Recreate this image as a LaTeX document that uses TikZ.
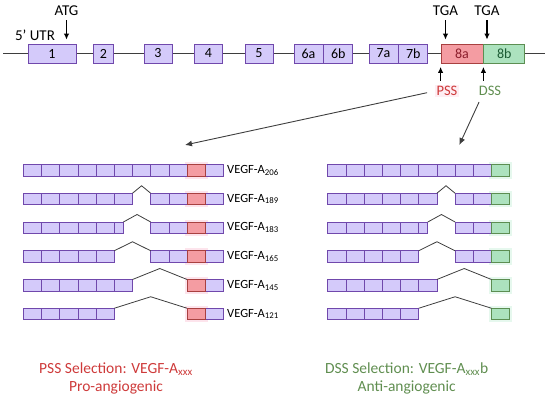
\documentclass[tikz,border=0pt]{standalone}
\usepackage{fontspec}
\setmainfont{Carlito}
\usetikzlibrary{arrows.meta,positioning}
\definecolor{exfill}{RGB}{212,202,250}
\definecolor{exedge}{RGB}{112,72,172}
\definecolor{pssfill}{RGB}{244,156,162}
\definecolor{pssedge}{RGB}{168,64,64}
\definecolor{pssglow}{RGB}{253,228,236}
\definecolor{dssfill}{RGB}{172,226,190}
\definecolor{dssedge}{RGB}{92,142,82}
\definecolor{dssglow}{RGB}{230,248,238}
\definecolor{psstext}{RGB}{206,58,58}
\definecolor{dsstext}{RGB}{96,142,80}
\definecolor{linegray}{RGB}{62,62,62}
\tikzset{
  exon/.style={draw=exedge,line width=0.8pt,fill=exfill,
    minimum height=19pt,inner sep=0pt,font=\fontsize{14}{14}\selectfont},
  exonA/.style={exon,draw=pssedge,fill=pssfill,text={rgb,255:red,140;green,30;blue,44}},
  exonB/.style={exon,draw=dssedge,fill=dssfill,text={rgb,255:red,28;green,92;blue,52}},
  pbox/.style={draw=exedge,line width=0.7pt,fill=exfill},
  pssbox/.style={draw=pssedge,line width=0.7pt,fill=pssfill},
  dssbox/.style={draw=dssedge,line width=0.7pt,fill=dssfill},
  intron/.style={draw=linegray,line width=0.9pt},
  splice/.style={draw=linegray,line width=0.8pt},
  toplab/.style={inner sep=1pt,font=\fontsize{15}{15}\selectfont},
  sitelab/.style={inner sep=1.5pt,font=\fontsize{14.5}{14.5}\selectfont},
  isofont/.style={inner sep=0pt,font=\fontsize{12.5}{12.5}\selectfont},
  selfont/.style={align=center,font=\fontsize{15.5}{18}\selectfont},
  arr/.style={draw=black,line width=1.1pt,-{Latex[length=6pt,width=5.5pt]}},
  bigarr/.style={draw=linegray,line width=0.9pt,-{Latex[length=7pt,width=6pt]}},
}
\newcommand{\boxw}{18.2}
\newcommand{\boxh}{11.5}
\newcommand{\ehalf}[3]{%
  \draw[pbox] ({#1+(#3-1)*\boxw},{#2}) rectangle ++({0.5*\boxw},\boxh);}
\newcommand{\erow}[6]{%
  \fill[#6] ({#1+(#4-1)*\boxw-2.5},{#2-2.5}) rectangle ++({\boxw+5},{\boxh+5});
  \foreach \p in {#3}{%
    \draw[pbox] ({#1+(\p-1)*\boxw},{#2}) rectangle ++(\boxw,\boxh);}
  \draw[#5] ({#1+(#4-1)*\boxw},{#2}) rectangle ++(\boxw,\boxh);}
\newcommand{\esplice}[5]{%
  \draw[splice] ({#1+#3*\boxw},{#2}) -- ({#1+(#3+#4)/2*\boxw},{#2-#5}) -- ({#1+#4*\boxw},{#2});}
\newcommand{\isolab}[3]{%
  \node[isofont,anchor=west] (#1) at (227,{#2+0.5*\boxh}) {VEGF-A\textsubscript{#3}};}

\begin{document}
\begin{tikzpicture}[x=1pt,y=-1pt]
        \useasboundingbox (0,0) rectangle (550,399);
        \isolab{v206}{164.5}{206}\isolab{v189}{193.25}{189}
        \isolab{v183}{222}{183}\isolab{v165}{250.75}{165}
        \isolab{v145}{279.5}{145}\isolab{v121}{308.25}{121}
        \coordinate (gs) at (3,53.5);
        \coordinate (ge) at (545,53.5);
        \draw[intron] (gs) -- (ge);
        \node[exon,minimum width=48pt] (e1) at (52,53.5) {1};
        \node[exon,minimum width=20pt] (e2) at (103.3,53.5) {2};
        \node[exon,minimum width=28pt] (e3) at (158,53.5) {3};
        \node[exon,minimum width=28pt] (e4) at (208.3,53.5) {4};
        \node[exon,minimum width=28pt] (e5) at (259,53.5) {5};
        \node[exon,minimum width=29pt] (e6a) at (308.5,53.5) {6a};
        \node[exon,minimum width=29pt,right=0pt of e6a] (e6b) {6b};
        \node[exon,minimum width=29pt] (e7a) at (383.5,53.5) {7a};
        \node[exon,minimum width=29pt,right=0pt of e7a] (e7b) {7b};
        \node[exonA,minimum width=42pt] (e8a) at (462,53.5) {8a};
        \node[exonB,minimum width=41pt,right=0pt of e8a] (e8b) {8b};
        \node[toplab] (atg) at (66.5,11) {ATG};
        \node[toplab] (utr) at (35,35) {5' UTR};
        \node[toplab] (tga1) at (445.5,11) {TGA};
        \node[toplab] (tga2) at (487,11) {TGA};
        \draw[arr,shorten <=3pt,shorten >=4pt] (atg) -- (atg |- e1.north);
        \draw[arr,shorten <=3pt,shorten >=4pt] (tga1) -- (tga1 |- e8a.north);
        \draw[arr,shorten <=3pt,shorten >=4pt] (tga2) -- (tga2 |- e8b.north);
        \node[sitelab,text=psstext,fill={rgb,255:red,254;green,238;blue,243}] (pss) at (447,91) {PSS};
        \node[sitelab,text=dsstext] (dss) at (490,91) {DSS};
        \draw[arr,shorten <=4pt,shorten >=3.5pt] (pss.north -| e8a.south west) -- (e8a.south west);
        \draw[arr,shorten <=4pt,shorten >=3.5pt] (dss.north -| e8a.south east) -- (e8a.south east);
        \coordinate (ptip) at (185,145);
        \coordinate (dtip) at (459.3,145);
        \draw[bigarr,shorten <=8pt] (pss.west) -- (ptip);
        \draw[bigarr,shorten <=5pt] ([xshift=4pt]dss.south west) -- (dtip);
        \erow{23.3}{164.5}{1,2,3,4,5,6,7,8,9,11}{10}{pssbox}{pssglow}
        \erow{23.3}{193.25}{1,2,3,4,5,6,8,9,11}{10}{pssbox}{pssglow}
        \erow{23.3}{222}{1,2,3,4,5,8,9,11}{10}{pssbox}{pssglow}\ehalf{23.3}{222}{6}
        \erow{23.3}{250.75}{1,2,3,4,5,8,9,11}{10}{pssbox}{pssglow}
        \erow{23.3}{279.5}{1,2,3,4,5,6,11}{10}{pssbox}{pssglow}
        \erow{23.3}{308.25}{1,2,3,4,5,11}{10}{pssbox}{pssglow}
        \esplice{23.3}{193.25}{6}{7}{7.5}\esplice{23.3}{222}{5.5}{7}{7.5}
        \esplice{23.3}{250.75}{5}{7}{9}\esplice{23.3}{279.5}{6}{9}{11}
        \esplice{23.3}{308.25}{5}{9}{11.5}
        \erow{327.7}{164.5}{1,2,3,4,5,6,7,8,9}{10}{dssbox}{dssglow}
        \erow{327.7}{193.25}{1,2,3,4,5,6,8,9}{10}{dssbox}{dssglow}
        \erow{327.7}{222}{1,2,3,4,5,8,9}{10}{dssbox}{dssglow}\ehalf{327.7}{222}{6}
        \erow{327.7}{250.75}{1,2,3,4,5,8,9}{10}{dssbox}{dssglow}
        \erow{327.7}{279.5}{1,2,3,4,5,6}{10}{dssbox}{dssglow}
        \erow{327.7}{308.25}{1,2,3,4,5}{10}{dssbox}{dssglow}
        \esplice{327.7}{193.25}{6}{7}{7.5}\esplice{327.7}{222}{5.5}{7}{7.5}
        \esplice{327.7}{250.75}{5}{7}{9}\esplice{327.7}{279.5}{6}{9}{11}
        \esplice{327.7}{308.25}{5}{9}{11.5}
        \node[selfont,text=psstext] (psel) at (116,378) {PSS Selection: VEGF-A\textsubscript{xxx}\\Pro-angiogenic};
        \node[selfont,text=dsstext] (dsel) at (406.7,378) {DSS Selection: VEGF-A\textsubscript{xxx}b\\Anti-angiogenic};
      \end{tikzpicture}
\end{document}
